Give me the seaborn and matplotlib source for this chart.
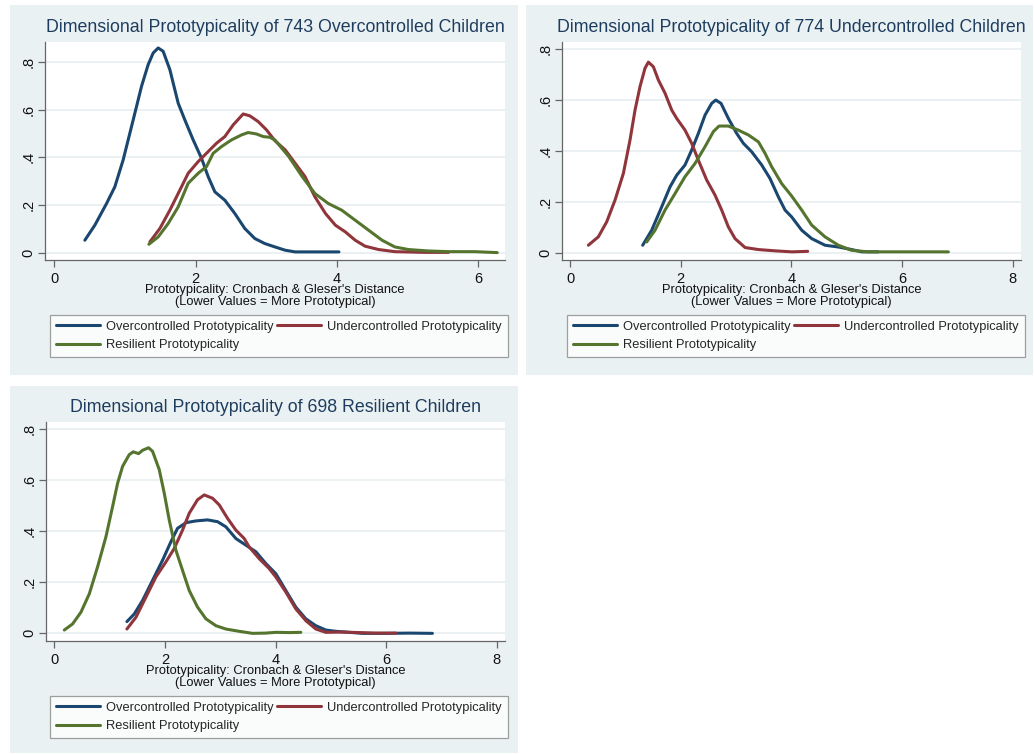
import numpy as np
import pandas as pd
import matplotlib
matplotlib.use('Agg')
import matplotlib.pyplot as plt
from matplotlib.patches import Rectangle
from matplotlib.lines import Line2D
import seaborn as sns

# Series names and colours (Stata s2color navy / maroon / forest green)
series_names = ['Overcontrolled Prototypicality',
                'Undercontrolled Prototypicality',
                'Resilient Prototypicality']
series_colors = ['#1A476F', '#90353B', '#55752F']

xlabel_text = "Prototypicality: Cronbach & Gleser's Distance\n(Lower Values = More Prototypical)"

# ---- Panel 1: 743 overcontrolled children
p1_title = 'Dimensional Prototypicality of 743 Overcontrolled Children'
p1_over_x = [0.434, 0.575, 0.741, 0.858, 0.976, 1.118, 1.236, 1.330, 1.401, 1.472, 1.542, 1.637,
             1.755, 1.849, 1.967, 2.085, 2.179, 2.274, 2.415, 2.557, 2.698, 2.840, 2.981, 3.123,
             3.27, 3.41, 3.69, 4.03]
p1_over_y = [0.052, 0.115, 0.206, 0.276, 0.389, 0.557, 0.698, 0.789, 0.838, 0.859, 0.845, 0.768,
             0.627, 0.557, 0.473, 0.396, 0.319, 0.255, 0.220, 0.164, 0.101, 0.059, 0.038, 0.024,
             0.010, 0.003, 0.003, 0.003]
p1_under_x = [1.354, 1.495, 1.637, 1.778, 1.896, 2.038, 2.179, 2.297, 2.415, 2.533, 2.675, 2.769,
              2.887, 3.005, 3.123, 3.27, 3.41, 3.55, 3.69, 3.84, 3.98, 4.12, 4.26, 4.40, 4.59,
              4.82, 5.25, 5.58]
p1_under_y = [0.045, 0.101, 0.178, 0.262, 0.333, 0.382, 0.424, 0.459, 0.487, 0.536, 0.582, 0.574,
              0.550, 0.515, 0.470, 0.431, 0.375, 0.319, 0.234, 0.164, 0.115, 0.087, 0.052, 0.027,
              0.013, 0.004, 0.001, 0.001]
p1_res_x = [1.340, 1.472, 1.613, 1.755, 1.896, 2.038, 2.156, 2.250, 2.368, 2.509, 2.651, 2.745,
            2.863, 2.958, 3.052, 3.123, 3.32, 3.51, 3.69, 3.88, 4.07, 4.26, 4.45, 4.64, 4.82,
            5.01, 5.29, 5.58, 5.95, 6.27]
p1_res_y = [0.035, 0.066, 0.122, 0.192, 0.291, 0.333, 0.361, 0.417, 0.445, 0.473, 0.494, 0.504,
            0.498, 0.487, 0.484, 0.473, 0.403, 0.319, 0.248, 0.206, 0.178, 0.136, 0.094, 0.052,
            0.024, 0.013, 0.007, 0.004, 0.004, 0.0]
p1_xticks = [0, 2, 4, 6]

# ---- Panel 2: 774 undercontrolled children
p2_title = 'Dimensional Prototypicality of 774 Undercontrolled Children'
p2_over_x = [1.313, 1.476, 1.657, 1.807, 1.928, 2.078, 2.199, 2.319, 2.440, 2.560, 2.633, 2.729,
             2.861, 3.012, 3.133, 3.283, 3.464, 3.614, 3.765, 3.886, 4.006, 4.187, 4.367, 4.608,
             4.849, 5.090, 5.271, 5.572]
p2_over_y = [0.029, 0.088, 0.180, 0.258, 0.304, 0.344, 0.403, 0.468, 0.540, 0.586, 0.599, 0.586,
             0.527, 0.468, 0.429, 0.396, 0.344, 0.291, 0.219, 0.167, 0.140, 0.088, 0.055, 0.029,
             0.022, 0.012, 0.003, 0.003]
p2_under_x = [0.331, 0.512, 0.663, 0.813, 0.964, 1.084, 1.175, 1.265, 1.355, 1.416, 1.506, 1.596,
              1.717, 1.837, 1.928, 2.078, 2.199, 2.319, 2.470, 2.620, 2.741, 2.861, 2.982, 3.163,
              3.404, 3.705, 4.006, 4.295]
p2_under_y = [0.029, 0.062, 0.121, 0.206, 0.311, 0.442, 0.560, 0.652, 0.724, 0.748, 0.730, 0.678,
              0.626, 0.560, 0.527, 0.481, 0.429, 0.363, 0.285, 0.226, 0.167, 0.101, 0.055, 0.020,
              0.012, 0.007, 0.003, 0.005]
p2_res_x = [1.386, 1.536, 1.717, 1.898, 2.078, 2.259, 2.440, 2.590, 2.693, 2.861, 3.042, 3.223,
            3.404, 3.524, 3.645, 3.825, 4.006, 4.187, 4.367, 4.608, 4.849, 5.090, 5.392, 6.837]
p2_res_y = [0.042, 0.088, 0.167, 0.232, 0.298, 0.350, 0.416, 0.475, 0.497, 0.497, 0.481, 0.462,
            0.435, 0.390, 0.337, 0.271, 0.222, 0.167, 0.108, 0.062, 0.029, 0.009, 0.003, 0.003]
p2_xticks = [0, 2, 4, 6, 8]

# ---- Panel 3: 698 resilient children
p3_title = 'Dimensional Prototypicality of 698 Resilient Children'
p3_over_x = [1.313, 1.446, 1.596, 1.777, 1.958, 2.108, 2.229, 2.380, 2.560, 2.771, 2.952, 3.102,
             3.283, 3.464, 3.645, 3.825, 4.006, 4.187, 4.367, 4.548, 4.729, 4.910, 5.090, 5.331,
             5.572, 5.994, 6.416, 6.837]
p3_over_y = [0.046, 0.076, 0.129, 0.208, 0.287, 0.359, 0.412, 0.434, 0.441, 0.445, 0.438, 0.418,
             0.372, 0.346, 0.320, 0.274, 0.234, 0.168, 0.103, 0.057, 0.030, 0.013, 0.008, 0.004,
             0.0, 0.0, 0.001, 0.0]
p3_under_x = [1.313, 1.476, 1.657, 1.837, 2.018, 2.169, 2.319, 2.440, 2.590, 2.711, 2.861, 2.982,
              3.133, 3.283, 3.434, 3.524, 3.705, 3.886, 4.006, 4.187, 4.367, 4.548, 4.729, 4.910,
              5.211, 5.512, 5.813, 6.175]
p3_under_y = [0.017, 0.063, 0.142, 0.221, 0.280, 0.333, 0.405, 0.471, 0.524, 0.543, 0.530, 0.504,
              0.451, 0.405, 0.372, 0.339, 0.293, 0.254, 0.221, 0.162, 0.096, 0.050, 0.017, 0.004,
              0.005, 0.003, 0.001, 0.001]
p3_res_x = [0.181, 0.331, 0.482, 0.633, 0.783, 0.934, 1.054, 1.145, 1.235, 1.355, 1.428, 1.524,
            1.596, 1.705, 1.777, 1.898, 1.988, 2.078, 2.199, 2.319, 2.440, 2.590, 2.741, 2.922,
            3.102, 3.343, 3.584, 3.825, 4.006, 4.247, 4.458]
p3_res_y = [0.013, 0.037, 0.083, 0.155, 0.261, 0.379, 0.497, 0.589, 0.655, 0.701, 0.712, 0.705,
            0.718, 0.728, 0.714, 0.642, 0.550, 0.445, 0.326, 0.247, 0.168, 0.103, 0.057, 0.030,
            0.017, 0.008, 0.0, 0.001, 0.004, 0.003, 0.004]
p3_xticks = [0, 2, 4, 6, 8]

sns.set_theme(style='white')
plt.rcParams['font.family'] = ['Liberation Sans', 'DejaVu Sans']

W, H = 1034, 754
fig = plt.figure(figsize=(W / 100, H / 100), dpi=100)
fig.patch.set_facecolor('white')

panel_bg = '#EAF1F3'
title_color = '#1E3D5E'


def px_rect(left, top, right, bottom):
    return [left / W, 1 - bottom / H, (right - left) / W, (bottom - top) / H]


def long_frame(over_x, over_y, under_x, under_y, res_x, res_y):
    parts = []
    for name, xs, ys in zip(series_names, [over_x, under_x, res_x], [over_y, under_y, res_y]):
        parts.append(pd.DataFrame({'x': xs, 'y': ys, 'series': name}))
    return pd.concat(parts, ignore_index=True)


def draw_panel(panel_box, ax_box, legend_xy, title, df, xticks, xlim, ylim):
    # panel background
    fig.patches.append(Rectangle((panel_box[0] / W, 1 - panel_box[3] / H),
                                 (panel_box[2] - panel_box[0]) / W,
                                 (panel_box[3] - panel_box[1]) / H,
                                 transform=fig.transFigure, facecolor=panel_bg,
                                 edgecolor='none', zorder=-10))
    ax = fig.add_axes(px_rect(*ax_box))
    ax.set_facecolor('white')
    sns.lineplot(data=df, x='x', y='y', hue='series', hue_order=series_names,
                 palette=series_colors, estimator=None, sort=False, lw=2.2,
                 legend=False, ax=ax)
    for ln in ax.lines:
        ln.set_solid_joinstyle('round')
        ln.set_solid_capstyle('round')
    ax.set_xlim(*xlim)
    ax.set_ylim(*ylim)
    ax.set_xticks(xticks)
    ax.set_xticklabels([str(t) for t in xticks], fontsize=10.5)
    yt = [0, 0.2, 0.4, 0.6, 0.8]
    ax.set_yticks(yt)
    ax.set_yticklabels(['0', '.2', '.4', '.6', '.8'], fontsize=10.5, rotation=90, va='center')
    ax.grid(axis='y', color='#E8EFF1', lw=1.2, zorder=0)
    ax.set_axisbelow(True)
    for s in ['top', 'right']:
        ax.spines[s].set_visible(False)
    for s in ['left', 'bottom']:
        ax.spines[s].set_color('#666666')
        ax.spines[s].set_linewidth(0.9)
    ax.tick_params(axis='x', direction='out', length=5, width=0.9, color='#666666',
                   labelcolor='#111111', bottom=True, pad=3.5)
    ax.tick_params(axis='y', direction='out', length=5, width=0.9, color='#666666',
                   labelcolor='#111111', left=True, pad=2)
    ax.set_xlabel('')
    ax.set_ylabel('')
    cx = (ax_box[0] + ax_box[2]) / 2
    fig.text(cx / W, 1 - (ax_box[1] - 14) / H, title, ha='center', va='center',
             fontsize=12.8, color=title_color)
    fig.text(cx / W, 1 - (ax_box[3] + 24) / H, xlabel_text, ha='center', va='top',
             fontsize=9.3, color='#111111', linespacing=0.95)
    # legend: row 1 over / under, row 2 resilient
    handles = [Line2D([], [], color=series_colors[i], lw=2.2) for i in [0, 2, 1]]
    labels = [series_names[i] for i in [0, 2, 1]]
    leg = ax.legend(handles, labels, ncol=2, loc='upper left',
                    bbox_to_anchor=(legend_xy[0] / W, 1 - legend_xy[1] / H),
                    bbox_transform=fig.transFigure, borderaxespad=0,
                    fontsize=9.3, frameon=True, fancybox=False, handlelength=3.4,
                    handletextpad=0.5, columnspacing=0.25, labelspacing=0.5,
                    borderpad=0.45)
    leg.get_frame().set_edgecolor('#888888')
    leg.get_frame().set_linewidth(0.9)
    return ax


df1 = long_frame(p1_over_x, p1_over_y, p1_under_x, p1_under_y, p1_res_x, p1_res_y)
df2 = long_frame(p2_over_x, p2_over_y, p2_under_x, p2_under_y, p2_res_x, p2_res_y)
df3 = long_frame(p3_over_x, p3_over_y, p3_under_x, p3_under_y, p3_res_x, p3_res_y)

draw_panel((10, 5, 518, 375), (45, 42, 505, 260), (50, 315),
           p1_title, df1, p1_xticks, (-0.13, 6.38), (-0.031, 0.884))
draw_panel((526, 5, 1033, 375), (562, 42, 1021, 260), (567, 315),
           p2_title, df2, p2_xticks, (-0.145, 8.15), (-0.029, 0.827))
draw_panel((10, 386, 518, 753), (46, 422, 505, 641), (50, 696),
           p3_title, df3, p3_xticks, (-0.15, 8.15), (-0.03, 0.829))

fig.savefig('out.png', dpi=100)
